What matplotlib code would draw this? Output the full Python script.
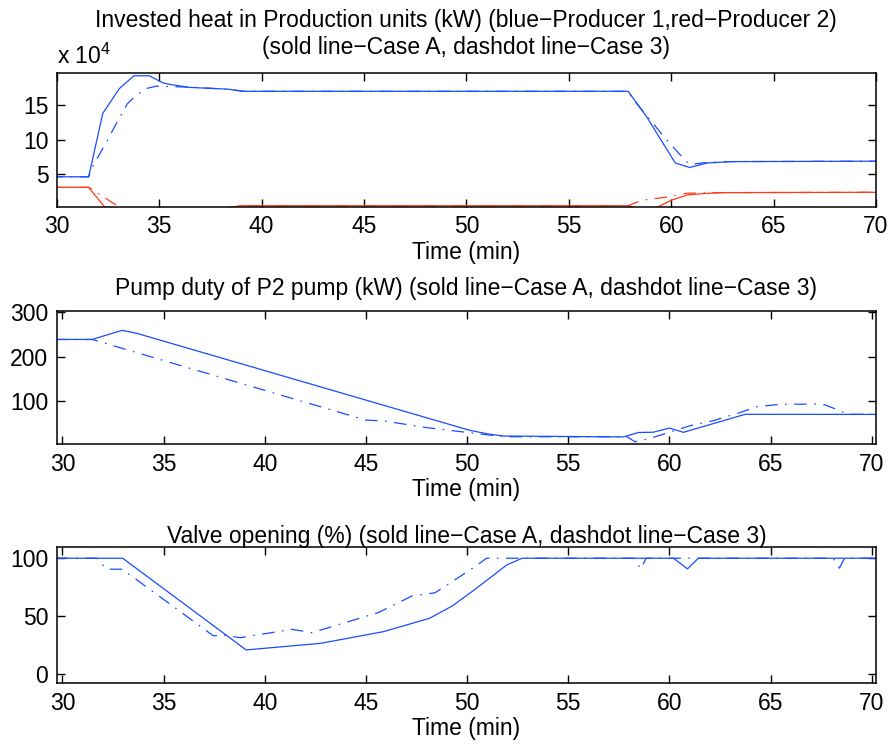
import matplotlib
matplotlib.use("Agg")
import matplotlib.pyplot as plt
import numpy as np

plt.rcParams["font.family"] = ["Liberation Sans", "DejaVu Sans"]
plt.rcParams["mathtext.default"] = "regular"
plt.rcParams["font.size"] = 16.5

BLUE = "#1a4cff"
RED = "#ff3a1a"
DASHDOT = (0, (10, 6, 1.3, 6))
FS = 16.5

# --- panel 1: invested heat (kW) ---
t_heat1_a = [29.7, 31.56, 32.25, 33.06, 33.77, 34.52, 35.2, 35.53, 36.45, 38.4, 39.1,
             57.9, 58.8, 60.2, 60.9, 61.75, 63.0, 70.2]
heat1_a = [46000, 46000, 138000, 174000, 192500, 192500, 182000, 180000, 175700, 173000,
           170000, 170000, 133000, 66000, 59500, 66000, 68000, 68600]
t_heat1_b = [29.7, 31.56, 31.79, 32.41, 32.96, 33.45, 33.9, 34.36, 34.88, 36.5, 38.4, 39.1,
             57.9, 58.1, 59.65, 60.7, 60.95, 61.5, 62.5, 70.2]
heat1_b = [46000, 46000, 63000, 95400, 126000, 152000, 164500, 174000, 177500, 176000,
           173000, 170000, 170000, 160000, 104000, 69000, 64000, 66000, 68000, 68600]
t_heat2_a = [29.7, 31.56, 32.4, 38.0, 39.0, 57.9, 58.4, 59.2, 60.0, 60.8, 61.5, 62.5, 70.2]
heat2_a = [30700, 30700, 0, 0, 4000, 4000, 0, 0, 12000, 19600, 21500, 23000, 23500]
t_heat2_b = [29.7, 31.56, 32.1, 32.65, 33.2, 38.0, 39.0, 57.9, 58.56, 59.78, 60.76, 62.0, 70.2]
heat2_b = [30700, 30700, 20500, 9700, 0, 0, 4000, 4000, 12000, 16500, 22000, 23000, 23500]

# --- panel 2: pump duty of P2 (kW) ---
t_pump_a = [29.7, 31.47, 32.95, 33.68, 49.0, 50.1, 51.0, 51.8, 57.73, 58.47, 59.2, 60.0,
            60.69, 63.74, 70.2]
pump_a = [239, 239, 259.6, 252.8, 48.9, 34.3, 26, 21, 19, 29, 29.6, 39, 29.4, 70, 69.8]
t_pump_b = [29.7, 31.47, 38.0, 45.0, 45.9, 48.0, 51.4, 52.0, 57.9, 58.3, 59.0, 61.0, 62.15,
            63.47, 64.3, 65.45, 67.1, 67.66, 68.24, 68.73, 69.0, 70.2]
pump_b = [239, 239, 151, 57, 55, 40, 21.6, 19.4, 19.4, 8, 15, 44, 55.5, 73.6, 87, 92.5,
          93.2, 91.7, 81.5, 71.8, 70, 70]

# --- panel 3: valve opening (%) ---
t_valve_a = [29.7, 32.98, 39.08, 42.76, 45.87, 48.14, 49.27, 50.4, 51.96, 52.72, 60.2,
             60.89, 61.43, 70.2]
valve_a = [100, 100, 20.8, 26.5, 36.6, 48.1, 58.8, 73.2, 94.2, 100, 100, 90.8, 100, 100]
t_valve_b = [29.7, 31.7, 32.19, 32.96, 37.46, 37.96, 38.8, 41.35, 42.34, 45.6, 47.28,
             48.42, 50.4, 50.96, 58.25, 58.58, 58.85, 68.1, 68.4, 68.65, 70.2]
valve_b = [100, 100, 90.5, 90.5, 33, 33.5, 31.4, 38.6, 35.7, 53, 67.4, 70.2, 92.8, 100,
           100, 90.8, 100, 100, 91.4, 100, 100]

x_ticks = [30, 35, 40, 45, 50, 55, 60, 65, 70]


def style_axes(ax, xlim, ylim, yticks):
    ax.set_xlim(*xlim)
    ax.set_ylim(*ylim)
    ax.set_xticks(x_ticks)
    ax.set_yticks(yticks)
    ax.tick_params(direction="in", top=True, right=True, length=6, width=1,
                   labelsize=FS, pad=6)
    for s in ax.spines.values():
        s.set_linewidth(1.1)
    ax.set_xlabel("Time (min)", fontsize=FS, labelpad=2)


fig = plt.figure(figsize=(8.93, 7.47), dpi=100)
ax1 = fig.add_axes([0.0635, 0.7233, 0.9175, 0.1794])
ax2 = fig.add_axes([0.0635, 0.4052, 0.9175, 0.1788])
ax3 = fig.add_axes([0.0635, 0.0853, 0.9175, 0.1829])

# heat values shown in units of 1e4 kW
ax1.plot(t_heat1_a, np.array(heat1_a) / 1e4, color=BLUE, lw=0.9)
ax1.plot(t_heat1_b, np.array(heat1_b) / 1e4, color=BLUE, lw=0.9, linestyle=DASHDOT)
ax1.plot(t_heat2_a, np.array(heat2_a) / 1e4, color=RED, lw=0.9)
ax1.plot(t_heat2_b, np.array(heat2_b) / 1e4, color=RED, lw=0.9, linestyle=DASHDOT)
style_axes(ax1, (30, 70), (0.26, 19.7), [5, 10, 15])
ax1.text(0.5, 1.39, "Invested heat in Production units (kW) (blue\u2212Producer 1,red\u2212Producer 2)",
         transform=ax1.transAxes, ha="center", va="center", fontsize=FS)
ax1.text(0.5, 1.185, "(sold line\u2212Case A, dashdot line\u2212Case 3)",
         transform=ax1.transAxes, ha="center", va="center", fontsize=FS)
ax1.text(0.0, 1.025, "x 10$^4$", transform=ax1.transAxes, ha="left", va="bottom", fontsize=FS)

ax2.plot(t_pump_a, pump_a, color=BLUE, lw=0.9)
ax2.plot(t_pump_b, pump_b, color=BLUE, lw=0.9, linestyle=DASHDOT)
style_axes(ax2, (29.72, 70.21), (2.3, 303.8), [100, 200, 300])
ax2.set_title("Pump duty of P2 pump (kW) (sold line\u2212Case A, dashdot line\u2212Case 3)",
              fontsize=FS, pad=11)

ax3.plot(t_valve_a, valve_a, color=BLUE, lw=0.9)
ax3.plot(t_valve_b, valve_b, color=BLUE, lw=0.9, linestyle=DASHDOT)
style_axes(ax3, (29.72, 70.21), (-8, 110), [0, 50, 100])
ax3.set_title("Valve opening (%) (sold line\u2212Case A, dashdot line\u2212Case 3)",
              fontsize=FS, pad=2.5)

fig.savefig("out.png", dpi=100)
